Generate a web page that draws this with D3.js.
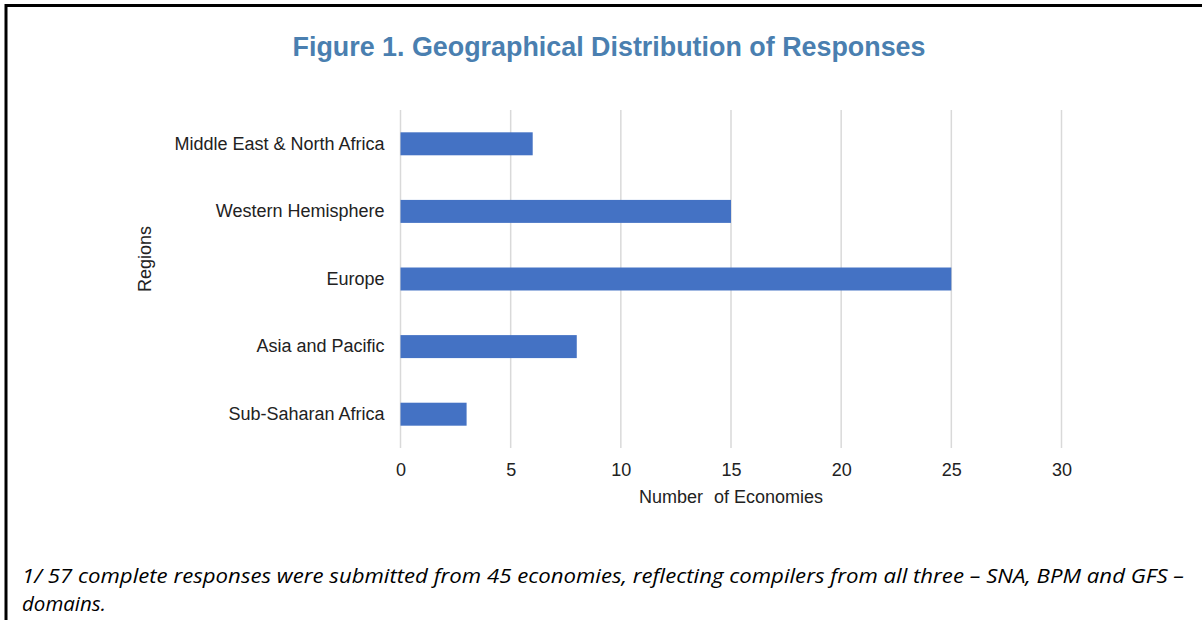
<!DOCTYPE html>
<html><head><meta charset="utf-8">
<script src="https://cdn.jsdelivr.net/npm/d3@7"></script>
<style>body{margin:0;background:#fff;} svg{display:block;}</style>
</head><body>
<svg id="chart" width="1202" height="620"></svg>
<script>
const titleText = "Figure 1. Geographical Distribution of Responses";
const categories = ["Middle East & North Africa", "Western Hemisphere", "Europe", "Asia and Pacific", "Sub-Saharan Africa"];
const values = [6, 15, 25, 8, 3];
const xTicks = [0, 5, 10, 15, 20, 25, 30];
const xLabelParts = ["Number", "of Economies"];
const yLabel = "Regions";
const noteLines = ["1/ 57 complete responses were submitted from 45 economies, reflecting compilers from all three \u2013 SNA, BPM and GFS \u2013", "domains."];

const svg = d3.select("#chart");
const W = 1202, H = 620;
const m = {left: 400.5, right: 1061.5, top: 110, bottom: 448};
const sans = "Liberation Sans, Arial, sans-serif";

// frame
svg.append("line").attr("x1", 5).attr("x2", W).attr("y1", 5.5).attr("y2", 5.5).attr("stroke", "#000").attr("stroke-width", 3);
svg.append("line").attr("x1", 6).attr("x2", 6).attr("y1", 4).attr("y2", H).attr("stroke", "#000").attr("stroke-width", 3);

svg.append("text").attr("x", 609).attr("y", 56).attr("text-anchor", "middle")
  .attr("font-family", sans).attr("font-weight", "bold")
  .attr("font-size", 27).attr("fill", "#4a7fb0")
  .attr("textLength", 633).attr("lengthAdjust", "spacingAndGlyphs").text(titleText);

const x = d3.scaleLinear().domain([0, 30]).range([m.left, m.right]);
const y = d3.scaleBand().domain(categories).range([m.top, m.bottom]).paddingInner(0.66).paddingOuter(0.33);

// grid
svg.append("g").selectAll("line").data(xTicks).join("line")
  .attr("x1", d => x(d)).attr("x2", d => x(d)).attr("y1", m.top).attr("y2", m.bottom)
  .attr("stroke", "#d9d9d9").attr("stroke-width", 1.5);

// x axis labels
const xAxis = svg.append("g").attr("transform", `translate(0,${m.bottom})`)
  .call(d3.axisBottom(x).tickValues(xTicks).tickSize(0).tickPadding(15));
xAxis.select(".domain").remove();
xAxis.selectAll("text").attr("font-family", sans).attr("font-size", 18).attr("fill", "#222");

// y axis labels
const yAxis = svg.append("g").attr("transform", `translate(${m.left},0)`)
  .call(d3.axisLeft(y).tickSize(0).tickPadding(16));
yAxis.select(".domain").remove();
yAxis.selectAll("text").attr("font-family", sans).attr("font-size", 18).attr("fill", "#222");

// bars
svg.append("g").selectAll("rect").data(categories).join("rect")
  .attr("x", x(0)).attr("y", d => y(d)).attr("height", y.bandwidth())
  .attr("width", (d, i) => x(values[i]) - x(0)).attr("fill", "#4472c4");

const xl = svg.append("text").attr("x", 731).attr("y", 503).attr("text-anchor", "middle")
  .attr("font-family", sans).attr("font-size", 18).attr("fill", "#222");
xl.append("tspan").text(xLabelParts[0]);
xl.append("tspan").attr("dx", 6).text(" " + xLabelParts[1]);
svg.append("text").attr("transform", "translate(151,259) rotate(-90)").attr("text-anchor", "middle")
  .attr("font-family", sans).attr("font-size", 18).attr("fill", "#222").text(yLabel);

// footnote
svg.append("text").attr("x", 22).attr("y", 583).attr("font-family", "'Open Sans', Lato, sans-serif")
  .attr("font-style", "italic").attr("font-size", 20.5).attr("fill", "#000")
  .attr("textLength", 1162).attr("lengthAdjust", "spacingAndGlyphs").text(noteLines[0]);
svg.append("text").attr("x", 22).attr("y", 611).attr("font-family", "'Open Sans', Lato, sans-serif")
  .attr("font-style", "italic").attr("font-size", 20.5).attr("fill", "#000").text(noteLines[1]);
</script>
</body></html>
